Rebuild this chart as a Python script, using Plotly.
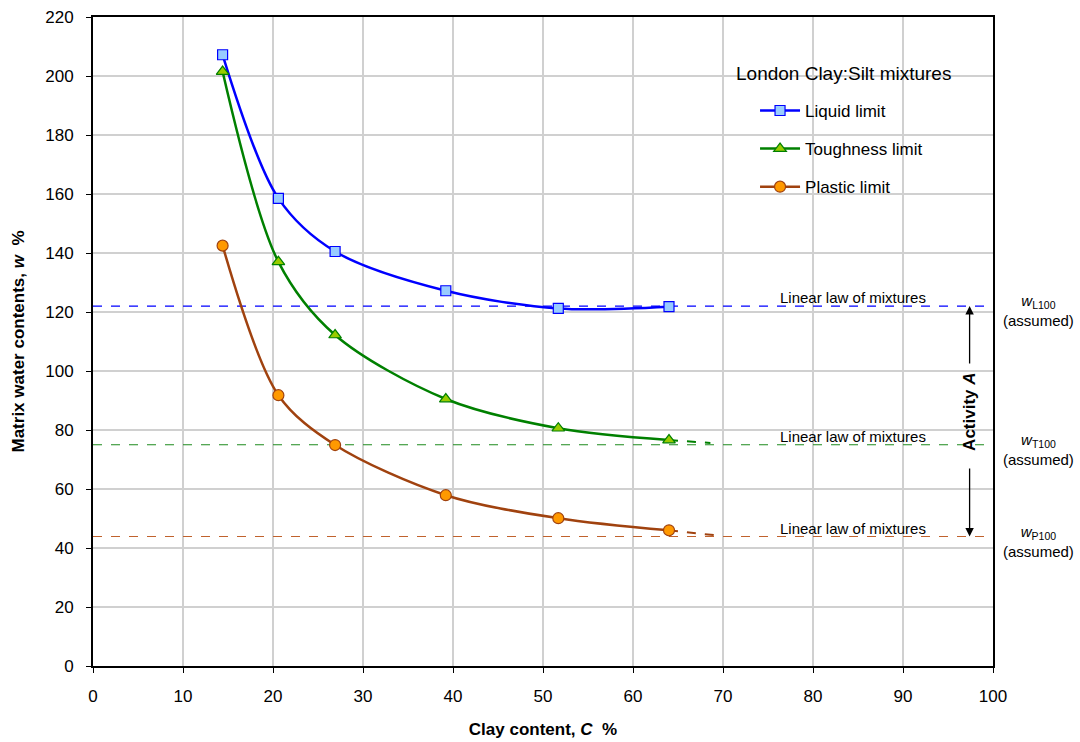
import plotly.graph_objects as go

clay = [14.4, 20.6, 26.9, 39.2, 51.7, 64.0]
liquid = [207.2, 158.5, 140.5, 127.2, 121.2, 121.8]
tough = [201.5, 137.0, 112.2, 90.5, 80.6, 76.6]
plastic = [142.5, 91.8, 74.9, 57.9, 50.1, 46.0]

tough_ext_x = [64.0, 68.6]
tough_ext_y = [76.6, 75.6]
plastic_ext_x = [64.0, 69.2]
plastic_ext_y = [46.0, 44.3]

wL100 = 122.0
wT100 = 75.0
wP100 = 43.9

FONT = "Liberation Sans, Arial, sans-serif"

fig = go.Figure()

# linear law lines
for val, col in [(wL100, "#0000FF"), (wT100, "#1E8A1E"), (wP100, "#C0622D")]:
    fig.add_trace(go.Scatter(x=[0, 100], y=[val, val], mode="lines",
                             line=dict(color=col, width=1.2, dash="dash"),
                             showlegend=False, hoverinfo="skip"))

fig.add_trace(go.Scatter(x=tough_ext_x, y=tough_ext_y, mode="lines",
                         line=dict(color="#008000", width=2, dash="dash"),
                         showlegend=False, hoverinfo="skip"))
fig.add_trace(go.Scatter(x=plastic_ext_x, y=plastic_ext_y, mode="lines",
                         line=dict(color="#A0420F", width=2, dash="dash"),
                         showlegend=False, hoverinfo="skip"))

fig.add_trace(go.Scatter(x=clay, y=liquid, mode="lines+markers", name="Liquid limit",
                         line=dict(color="#0000FF", width=2.5, shape="spline", smoothing=0.9),
                         marker=dict(symbol="square", size=10, color="#99CCFF",
                                     line=dict(color="#0000FF", width=1.2)),
                         legendgroup="a"))
fig.add_trace(go.Scatter(x=clay, y=tough, mode="lines+markers", name="Toughness limit",
                         line=dict(color="#008000", width=2.5, shape="spline", smoothing=0.9),
                         marker=dict(symbol="triangle-up", size=11, color="#99CC00",
                                     line=dict(color="#008000", width=1.2)),
                         legendgroup="b"))
fig.add_trace(go.Scatter(x=clay, y=plastic, mode="lines+markers", name="Plastic limit",
                         line=dict(color="#A0420F", width=2.5, shape="spline", smoothing=0.9),
                         marker=dict(symbol="circle", size=11, color="#FF9900",
                                     line=dict(color="#A0420F", width=1.2)),
                         legendgroup="c"))

annotations = []
for val in [wL100, wT100, wP100]:
    annotations.append(dict(x=84.4, y=val, xref="x", yref="y", text="Linear law of mixtures",
                            showarrow=False, yanchor="bottom", xanchor="center",
                            font=dict(size=15, color="#000000", family=FONT), yshift=-2))

labels = [(wL100, "L100"), (wT100, "T100"), (wP100, "P100")]
for val, sub in labels:
    annotations.append(dict(x=1.05, y=val, xref="paper", yref="y",
                            text="<i>w</i><sub>" + sub + "</sub><br>(assumed)",
                            showarrow=False, xanchor="center", yanchor="top", yshift=16,
                            align="center", font=dict(size=15, color="#000000", family=FONT)))

# Activity arrows
annotations.append(dict(x=97.4, y=wL100, ax=97.4, ay=102, xref="x", yref="y",
                        axref="x", ayref="y", showarrow=True, arrowhead=2, arrowsize=1.3,
                        arrowwidth=1.3, arrowcolor="#000000", text=""))
annotations.append(dict(x=97.4, y=wP100, ax=97.4, ay=67.5, xref="x", yref="y",
                        axref="x", ayref="y", showarrow=True, arrowhead=2, arrowsize=1.3,
                        arrowwidth=1.3, arrowcolor="#000000", text=""))
annotations.append(dict(x=97.4, y=86.0, xref="x", yref="y", text="<b>Activity <i>A</i></b>",
                        showarrow=False, textangle=-90,
                        font=dict(size=17, color="#000000", family=FONT)))

# legend title as annotation
annotations.append(dict(x=0.8344, y=201, xref="paper", yref="y", text="London Clay:Silt mixtures",
                        showarrow=False, xanchor="center", yanchor="middle",
                        font=dict(size=19, color="#000000", family=FONT)))

shapes = [
    dict(type="rect", xref="paper", yref="paper", x0=0.694, x1=0.971, y0=0.8767, y1=0.9307,
         fillcolor="white", line=dict(width=0), layer="between"),
    dict(type="rect", xref="paper", yref="paper", x0=0.7156, x1=0.9544, y0=0.7103, y1=0.8770,
         fillcolor="white", line=dict(width=0), layer="between"),
]

fig.update_layout(
    width=1080, height=742,
    margin=dict(l=93, r=87, t=17, b=76),
    paper_bgcolor="white", plot_bgcolor="white",
    font=dict(family=FONT, size=17, color="#000000"),
    annotations=annotations,
    shapes=shapes,
    legend=dict(x=0.7356, y=0.883, xanchor="left", yanchor="top",
                bgcolor="rgba(0,0,0,0)", borderwidth=0,
                font=dict(size=17, family=FONT), tracegroupgap=13,
                itemwidth=40),
    xaxis=dict(range=[0, 100], dtick=10, showgrid=True, gridcolor="#D0D0D0", gridwidth=1.5,
               showline=True, linecolor="#000000", linewidth=2, mirror=True,
               ticks="outside", ticklen=5, tickcolor="#000000", zeroline=False,
               tickfont=dict(size=17), ticklabelstandoff=9, automargin=False,
               title=dict(text="<b>Clay content, <i>C</i>  %</b>", font=dict(size=17), standoff=18)),
    yaxis=dict(range=[0, 220], dtick=20, showgrid=True, gridcolor="#D0D0D0", gridwidth=1.5,
               showline=True, linecolor="#000000", linewidth=2, mirror=True,
               ticks="outside", ticklen=5, tickcolor="#000000", zeroline=False,
               tickfont=dict(size=17), ticklabelstandoff=9, automargin=False,
               title=dict(text="<b>Matrix water contents, <i>w</i>  %</b>", font=dict(size=17), standoff=16)),
)

fig.write_html("out.html", config={"displayModeBar": False},
               post_script="document.body.style.margin='0';document.body.style.overflow='hidden';")
